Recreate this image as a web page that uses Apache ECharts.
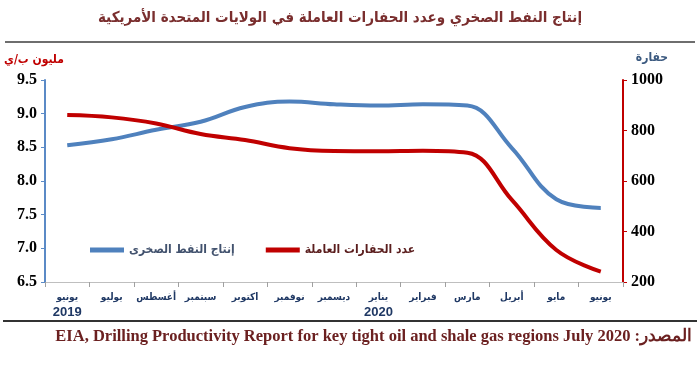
<!DOCTYPE html>
<html>
<head>
<meta charset="utf-8">
<script src="https://cdn.jsdelivr.net/npm/echarts@6/dist/echarts.min.js"></script>
<style>
html,body{margin:0;padding:0;background:#fff;}
#c{width:700px;height:369px;}
</style>
</head>
<body>
<div id="c"></div>
<script>
const months = ['يونيو','يوليو','أغسطس','سبتمبر','اكتوبر','نوفمبر','ديسمبر','يناير','فبراير','مارس','أبريل','مايو','يونيو'];
const years = ['2019','','','','','','','2020','','','','',''];
const shaleOil = [8.53, 8.62, 8.76, 8.88, 9.10, 9.18, 9.14, 9.12, 9.14, 9.12, 8.49, 7.73, 7.60];
const rigs = [861, 852, 828, 786, 762, 730, 719, 718, 720, 712, 525, 327, 241];
const oilName = 'إنتاج النفط الصخرى';
const rigName = 'عدد الحفارات العاملة';
const titleText = 'إنتاج النفط الصخري وعدد الحفارات العاملة في الولايات المتحدة الأمريكية';
const leftUnit = 'مليون ب/ي';
const rightUnit = 'حفارة';
const sourceText = 'EIA, Drilling Productivity Report for key tight oil and shale gas regions July 2020 :المصدر';

const arFont = 'DejaVu Sans Condensed, DejaVu Sans';
const chart = echarts.init(document.getElementById('c'));
const numFont = {fontFamily:'Liberation Serif', fontWeight:'bold', fontSize:16, color:'#000'};
chart.setOption({
  animation:false,
  backgroundColor:'#fff',
  grid:{left:45, right:77, top:80, bottom:87, containLabel:false},
  legend:{
    left:90, top:244, itemWidth:34, itemHeight:5, itemGap:31, icon:'rect', padding:0,
    textStyle:{fontFamily:arFont, fontWeight:'bold', fontSize:12},
    data:[
      {name:oilName, textStyle:{color:'#42526e'}},
      {name:rigName, textStyle:{color:'#5a1d1d'}}
    ]
  },
  xAxis:{
    type:'category', data:months, boundaryGap:true,
    axisLine:{lineStyle:{color:'#bfbfbf', width:1}},
    axisTick:{show:true, length:5, lineStyle:{color:'#a0a0a0'}},
    axisLabel:{
      interval:0, margin:8,
      formatter:function(v, i){ return '{m|' + v + '}' + (years[i] ? '\n{y|' + years[i] + '}' : ''); },
      rich:{
        m:{fontFamily:arFont, fontWeight:'bold', fontSize:10, color:'#1f3864', lineHeight:14},
        y:{fontFamily:'Liberation Sans', fontWeight:'bold', fontSize:13, color:'#1f3864', lineHeight:16}
      }
    },
    splitLine:{show:false}
  },
  yAxis:[
    {type:'value', min:6.5, max:9.5, interval:0.5, position:'left',
     axisLine:{show:true, lineStyle:{color:'#5b8ac6', width:2}},
     axisTick:{show:true, length:4, lineStyle:{color:'#5b8ac6', width:1}},
     axisLabel:Object.assign({margin:8, formatter:function(v){return v.toFixed(1);}}, numFont),
     splitLine:{show:false}},
    {type:'value', min:200, max:1000, interval:200, position:'right',
     axisLine:{show:true, lineStyle:{color:'#c00000', width:2}},
     axisTick:{show:true, length:4, lineStyle:{color:'#c00000', width:1}},
     axisLabel:Object.assign({margin:8, formatter:function(v){return String(v);}}, numFont),
     splitLine:{show:false}}
  ],
  series:[
    {name:oilName, type:'line', yAxisIndex:0, data:shaleOil, smooth:0.4, symbol:'none',
     lineStyle:{color:'#4f81bd', width:4}, itemStyle:{color:'#4f81bd'}},
    {name:rigName, type:'line', yAxisIndex:1, data:rigs, smooth:0.4, symbol:'none',
     lineStyle:{color:'#c00000', width:4}, itemStyle:{color:'#c00000'}}
  ],
  graphic:[
    {type:'text', x:340, y:18, style:{text:titleText, align:'center', verticalAlign:'middle', fontFamily:arFont, fontWeight:'bold', fontSize:15, fill:'#7a2e2e'}},
    {type:'line', shape:{x1:5, y1:42, x2:695, y2:42}, style:{stroke:'#6e6e6e', lineWidth:2}},
    {type:'text', x:4, y:60, style:{text:leftUnit, verticalAlign:'middle', fontFamily:arFont, fontWeight:'bold', fontSize:12, fill:'#c00000'}},
    {type:'text', x:668, y:58, style:{text:rightUnit, align:'right', verticalAlign:'middle', fontFamily:arFont, fontWeight:'bold', fontSize:12, fill:'#3c5a80'}},
    {type:'line', shape:{x1:3, y1:321, x2:697, y2:321}, style:{stroke:'#333', lineWidth:2}},
    {type:'text', x:692, y:337, style:{text:sourceText, align:'right', verticalAlign:'middle', fontFamily:'Liberation Serif', fontWeight:'bold', fontSize:16.5, fill:'#6b2020'}}
  ]
});
</script>
</body>
</html>
